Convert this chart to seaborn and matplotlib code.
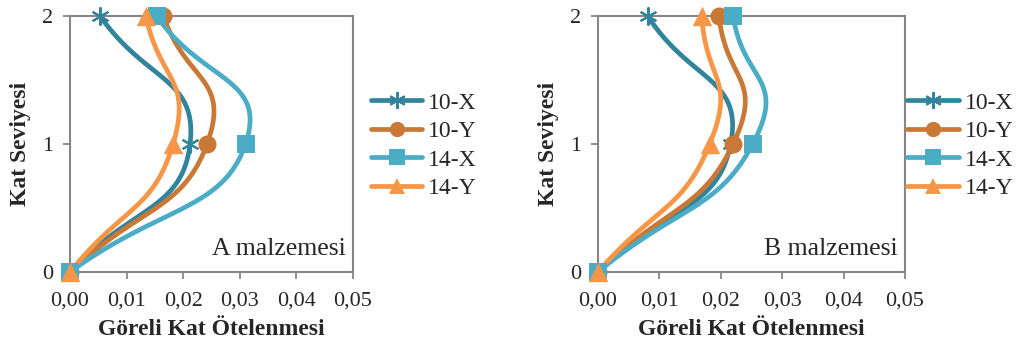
import numpy as np
import pandas as pd
import matplotlib.pyplot as plt
from matplotlib.lines import Line2D
import seaborn as sns

# ── Data ────────────────────────────────────────────────────────────────────────
series = ["10-X", "10-Y", "14-X", "14-Y"]
levels = [0, 1, 2]

# Göreli kat ötelenmesi per level (0, 1, 2)
drift_a = {
    "10-X": [0.0, 0.0212, 0.0053],
    "10-Y": [0.0, 0.0242, 0.0165],
    "14-X": [0.0, 0.0310, 0.0153],
    "14-Y": [0.0, 0.0182, 0.0134],
}
drift_b = {
    "10-X": [0.0, 0.0216, 0.0081],
    "10-Y": [0.0, 0.0220, 0.0197],
    "14-X": [0.0, 0.0252, 0.0220],
    "14-Y": [0.0, 0.0182, 0.0169],
}

colors = {"10-X": "#31849B", "10-Y": "#C97835", "14-X": "#4BACC6", "14-Y": "#F79646"}
markers = {"10-X": (6, 2, 0), "10-Y": "o", "14-X": "s", "14-Y": "^"}
msizes = {"10-X": 13, "10-Y": 13, "14-X": 13, "14-Y": 14}

sns.set_theme(style="white")
plt.rcParams["font.family"] = "Liberation Serif"


def smooth(xs, ys, sx, sy, k=0.26, n=60):
    """Excel-like smoothed line (Bezier through points) in screen-scaled space."""
    P = np.column_stack([np.asarray(xs) * sx, np.asarray(ys) * sy])
    P = np.vstack([2 * P[0] - P[1], P, 2 * P[-1] - P[-2]])
    out = []
    t = np.linspace(0, 1, n)[:, None]
    for i in range(1, len(P) - 2):
        p0, p1 = P[i], P[i + 1]
        c1 = p0 + (P[i + 1] - P[i - 1]) * k
        c2 = p1 - (P[i + 2] - P[i]) * k
        seg = ((1 - t) ** 3 * p0 + 3 * (1 - t) ** 2 * t * c1
               + 3 * (1 - t) * t ** 2 * c2 + t ** 3 * p1)
        out.append(seg)
    out = np.vstack(out)
    return out[:, 0] / sx, out[:, 1] / sy


fig = plt.figure(figsize=(10.18, 3.45), dpi=100)
ax_a = fig.add_axes([0.0688, 0.2116, 0.278, 0.742])
ax_b = fig.add_axes([0.5874, 0.2116, 0.3016, 0.742])

for ax, data, label, legx in [(ax_a, drift_a, "A malzemesi", 0.364),
                              (ax_b, drift_b, "B malzemesi", 0.891)]:
    bbox = ax.get_position()
    sx = bbox.width * 1018 / 0.05
    sy = bbox.height * 345 / 2
    for s in series:
        cx, cy = smooth(data[s], levels, sx, sy)
        curve = pd.DataFrame({"x": cx, "y": cy})
        sns.lineplot(data=curve, x="x", y="y", sort=False, estimator=None,
                     color=colors[s], linewidth=3.4, ax=ax, clip_on=False,
                     solid_capstyle="round")
    for s in series:
        pts = pd.DataFrame({"x": data[s], "y": levels})
        if s == "10-X":
            ax.plot(pts["x"], pts["y"], linestyle="none", marker=markers[s],
                    markersize=msizes[s], markeredgewidth=1.5,
                    color=colors[s], clip_on=False, zorder=5)
        else:
            sns.scatterplot(data=pts, x="x", y="y", marker=markers[s],
                            s=msizes[s] ** 2, color=colors[s], linewidth=0,
                            ax=ax, clip_on=False, zorder=5)

    ax.set_xlim(0, 0.05)
    ax.set_ylim(0, 2)
    ax.set_xticks([0, 0.01, 0.02, 0.03, 0.04, 0.05])
    ax.set_xticklabels(["0,00", "0,01", "0,02", "0,03", "0,04", "0,05"])
    ax.set_yticks([0, 1, 2])
    ax.tick_params(axis="both", direction="out", length=5, width=1.3,
                   color="#868686", labelsize=16, bottom=True, left=True)
    ax.tick_params(axis="x", pad=9)
    ax.tick_params(axis="y", pad=7)
    for sp in ax.spines.values():
        sp.set_color("#868686")
        sp.set_linewidth(1.5)
    ax.set_xlabel("Göreli Kat Ötelenmesi", fontsize=17, fontweight="bold",
                  labelpad=6)
    ax.set_ylabel("Kat Seviyesi", fontsize=17, fontweight="bold", labelpad=8)
    ax.text(0.975, 0.09, label, transform=ax.transAxes, ha="right",
            va="center", fontsize=18.5)

    handles = [Line2D([0], [0], color=colors[s], linewidth=3.4,
                      marker=markers[s], markersize=11 if s != "10-X" else 12,
                      markeredgewidth=1.5 if s == "10-X" else 0,
                      solid_capstyle="round") for s in series]
    fig.legend(handles, series, loc="upper left",
               bbox_to_anchor=(legx, 1 - 92 / 345), frameon=False,
               fontsize=17, handlelength=2.2, handletextpad=0.25,
               labelspacing=0.3, borderaxespad=0, borderpad=0)

fig.savefig("out.png", dpi=100)
